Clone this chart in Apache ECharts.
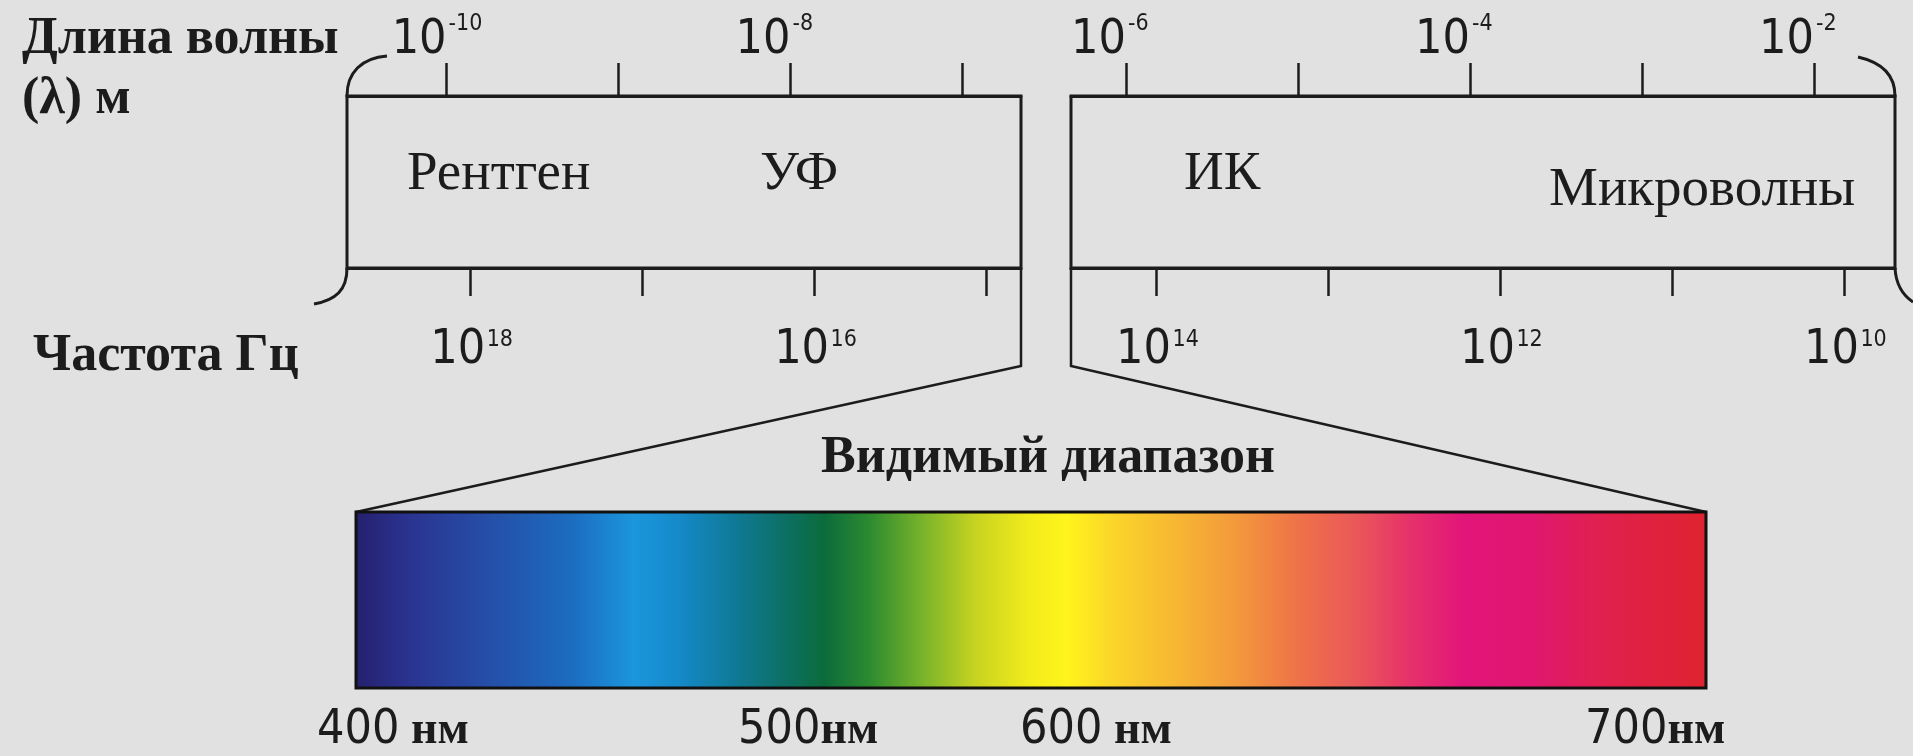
<!DOCTYPE html>
<html>
<head>
<meta charset="utf-8">
<script src="https://cdn.jsdelivr.net/npm/echarts@6/dist/echarts.min.js"></script>
<style>
html,body{margin:0;padding:0;background:#e1e1e1;}
#c{width:1913px;height:756px;}
</style>
</head>
<body>
<div id="c"></div>
<script>
// ---- data ----
const wavelengthTickExp = [-10, -9, -8, -7, -6, -5, -4, -3, -2];
const wavelengthLabelExp = [-10, -8, -6, -4, -2];
const frequencyTickExp = [18, 17, 16, 15, 14, 13, 12, 11, 10];
const frequencyLabelExp = [18, 16, 14, 12, 10];
const bandNames = ['Рентген', 'УФ', 'ИК', 'Микроволны'];
const axisTitles = ['Длина волны', '(λ) м', 'Частота Гц'];
const visibleTitle = 'Видимый диапазон';
const visibleRange = [400, 700];
const visibleLabelValues = ['400', '500', '600', '700'];
const visibleLabelUnits = [' нм', 'нм', ' нм', 'нм'];
const spectrumWavelengths = [400, 412, 430, 448, 462, 472, 484, 496, 504, 514, 526, 538, 550, 558, 568, 580, 595, 610, 622, 634, 646, 661, 676, 700];
const spectrumColors = ['#251f6e', '#2a3390', '#254fa8', '#1c6cc0', '#1b96dc', '#1589c9', '#0f7a98', '#0c6f62', '#0b6b3c', '#2b8a30', '#79b32a', '#c9d421', '#f3ec1b', '#fff41c', '#fbd62a', '#f7bb31', '#f39a3b', '#ee7049', '#ea5859', '#e6316a', '#e21579', '#e01770', '#e0204f', '#df232e'];

// ---- layout ----
const INK = '#1c1c1c';
const SANS = "'Liberation Sans Narrow','Arial Narrow','DejaVu Sans Condensed',sans-serif";
const SERIF = "'Liberation Serif','DejaVu Serif',serif";
const BOX_TOP = 96, BOX_H = 172;
const leftBox = {left: 347, width: 674};
const rightBox = {left: 1071, width: 824};
const axisRanges = {
  wlLeft: [-10.579, -6.660], frLeft: [14.800, 18.719],
  wlRight: [-6.320, -1.529], frRight: [9.706, 14.497]
};
const textPos = {
  title1: [22, 40], title2: [22, 100], title3: [33, 357],
  bands: [[407, 175], [760, 175], [1184, 175], [1549, 191]],
  visible: [821, 459],
  spectrumLabels: [[317, 731], [738, 731], [1020, 731], [1585, 731]]
};

function inRange(arr, r) { return arr.filter(v => v >= Math.min(r[0], r[1]) - 1e-9 && v <= Math.max(r[0], r[1]) + 1e-9); }

// main axis: line, ticks and the "10" base of each label
function baseAxis(grid, range, pos, ticks, labels) {
  const top = pos === 'top';
  return {
    type: 'value', gridIndex: grid, position: pos, inverse: !top, min: range[0], max: range[1],
    axisLine: {show: true, onZero: false, lineStyle: {color: INK, width: 3}},
    axisTick: {show: true, inside: false, length: top ? 33 : 28, lineStyle: {color: INK, width: 2.5},
      customValues: inRange(ticks, range)},
    axisLabel: {show: true, margin: top ? 31 : 59, align: top ? 'right' : 'center', customValues: inRange(labels, range),
      formatter: () => '{a|10}',
      rich: {a: {fontFamily: SANS, fontSize: 48, color: INK, lineHeight: 48, padding: top ? 0 : [0, 26, 0, 0]}}},
    splitLine: {show: false}
  };
}
// companion axis: only the exponent (superscript) of each label, right after the "10"
function expAxis(grid, range, pos, labels) {
  const top = pos === 'top';
  return {
    type: 'value', gridIndex: grid, position: pos, inverse: !top, min: range[0], max: range[1],
    axisLine: {show: false, onZero: false}, axisTick: {show: false},
    axisLabel: {show: true, margin: top ? 60 : 60, align: 'left', customValues: inRange(labels, range),
      formatter: v => '{b|' + v + '}',
      rich: {b: {fontFamily: SANS, fontSize: 23, color: INK, lineHeight: 24, padding: [0, 0, 0, top ? 2 : 16]}}},
    splitLine: {show: false}
  };
}

const gradStops = spectrumWavelengths.map((w, i) => ({
  offset: (w - visibleRange[0]) / (visibleRange[1] - visibleRange[0]),
  color: spectrumColors[i]
}));

function serifText(str, pos, weight, size) {
  return {type: 'text', x: pos[0], y: pos[1], silent: true,
    style: {text: str, fill: INK, font: weight + ' ' + size + 'px ' + SERIF, verticalAlign: 'middle', align: 'left'}};
}

const graphics = [
  serifText(axisTitles[0], textPos.title1, 'bold', 52),
  serifText(axisTitles[1], textPos.title2, 'bold', 52),
  serifText(axisTitles[2], textPos.title3, 'bold', 52),
  serifText(visibleTitle, textPos.visible, 'bold', 52)
];
bandNames.forEach((n, i) => graphics.push(serifText(n, textPos.bands[i], 'normal', 55)));
visibleLabelValues.forEach((v, i) => graphics.push({
  type: 'text', x: textPos.spectrumLabels[i][0], y: textPos.spectrumLabels[i][1], silent: true,
  style: {text: '{d|' + v + '}{u|' + visibleLabelUnits[i] + '}', verticalAlign: 'middle', align: 'left',
    rich: {
      d: {fontFamily: SANS, fontSize: 48, fill: INK, color: INK, lineHeight: 48},
      u: {fontFamily: SERIF, fontWeight: 'bold', fontSize: 46, fill: INK, color: INK, lineHeight: 48}
    }}
}));
// box extensions and connectors to the visible band
graphics.push({type: 'polyline', silent: true, shape: {points: [[1021, 268], [1021, 366], [356, 512]]},
  style: {stroke: INK, lineWidth: 2.5, fill: null}});
graphics.push({type: 'polyline', silent: true, shape: {points: [[1071, 268], [1071, 366], [1706, 512]]},
  style: {stroke: INK, lineWidth: 2.5, fill: null}});
// curly brackets
const brackets = [
  [347, 96, 347, 72, 362, 58, 387, 56],
  [347, 268, 347, 290, 336, 300, 314, 304],
  [1858, 57, 1880, 62, 1895, 74, 1895, 96],
  [1895, 268, 1896, 286, 1904, 296, 1913, 302]
];
brackets.forEach(b => graphics.push({type: 'bezierCurve', silent: true,
  shape: {x1: b[0], y1: b[1], cpx1: b[2], cpy1: b[3], cpx2: b[4], cpy2: b[5], x2: b[6], y2: b[7]},
  style: {stroke: INK, lineWidth: 3, fill: null}}));

const chart = echarts.init(document.getElementById('c'), null, {renderer: 'canvas'});
chart.setOption({
  backgroundColor: '#e1e1e1',
  animation: false,
  grid: [
    {left: leftBox.left, top: BOX_TOP, width: leftBox.width, height: BOX_H, show: true, borderColor: INK, borderWidth: 3, backgroundColor: 'transparent'},
    {left: rightBox.left, top: BOX_TOP, width: rightBox.width, height: BOX_H, show: true, borderColor: INK, borderWidth: 3, backgroundColor: 'transparent'},
    {left: 356, top: 512, width: 1350, height: 176, show: false}
  ],
  xAxis: [
    baseAxis(0, axisRanges.wlLeft, 'top', wavelengthTickExp, wavelengthLabelExp),
    expAxis(0, axisRanges.wlLeft, 'top', wavelengthLabelExp),
    baseAxis(0, axisRanges.frLeft, 'bottom', frequencyTickExp, frequencyLabelExp),
    expAxis(0, axisRanges.frLeft, 'bottom', frequencyLabelExp),
    baseAxis(1, axisRanges.wlRight, 'top', wavelengthTickExp, wavelengthLabelExp),
    expAxis(1, axisRanges.wlRight, 'top', wavelengthLabelExp),
    baseAxis(1, axisRanges.frRight, 'bottom', frequencyTickExp, frequencyLabelExp),
    expAxis(1, axisRanges.frRight, 'bottom', frequencyLabelExp),
    {type: 'value', gridIndex: 2, min: visibleRange[0], max: visibleRange[1], show: false}
  ],
  yAxis: [
    {type: 'value', gridIndex: 0, min: 0, max: 1, show: false},
    {type: 'value', gridIndex: 1, min: 0, max: 1, show: false},
    {type: 'value', gridIndex: 2, min: 0, max: 1, show: false}
  ],
  series: [{
    type: 'custom', xAxisIndex: 8, yAxisIndex: 2, silent: true,
    data: [[visibleRange[0], visibleRange[1]]],
    renderItem: function (params, api) {
      const p0 = api.coord([api.value(0), 1]);
      const p1 = api.coord([api.value(1), 0]);
      return {
        type: 'rect',
        shape: {x: p0[0], y: p0[1], width: p1[0] - p0[0], height: p1[1] - p0[1]},
        style: {
          fill: new echarts.graphic.LinearGradient(0, 0, 1, 0, gradStops),
          stroke: '#111', lineWidth: 3
        }
      };
    }
  }],
  graphic: graphics
});
</script>
</body>
</html>
